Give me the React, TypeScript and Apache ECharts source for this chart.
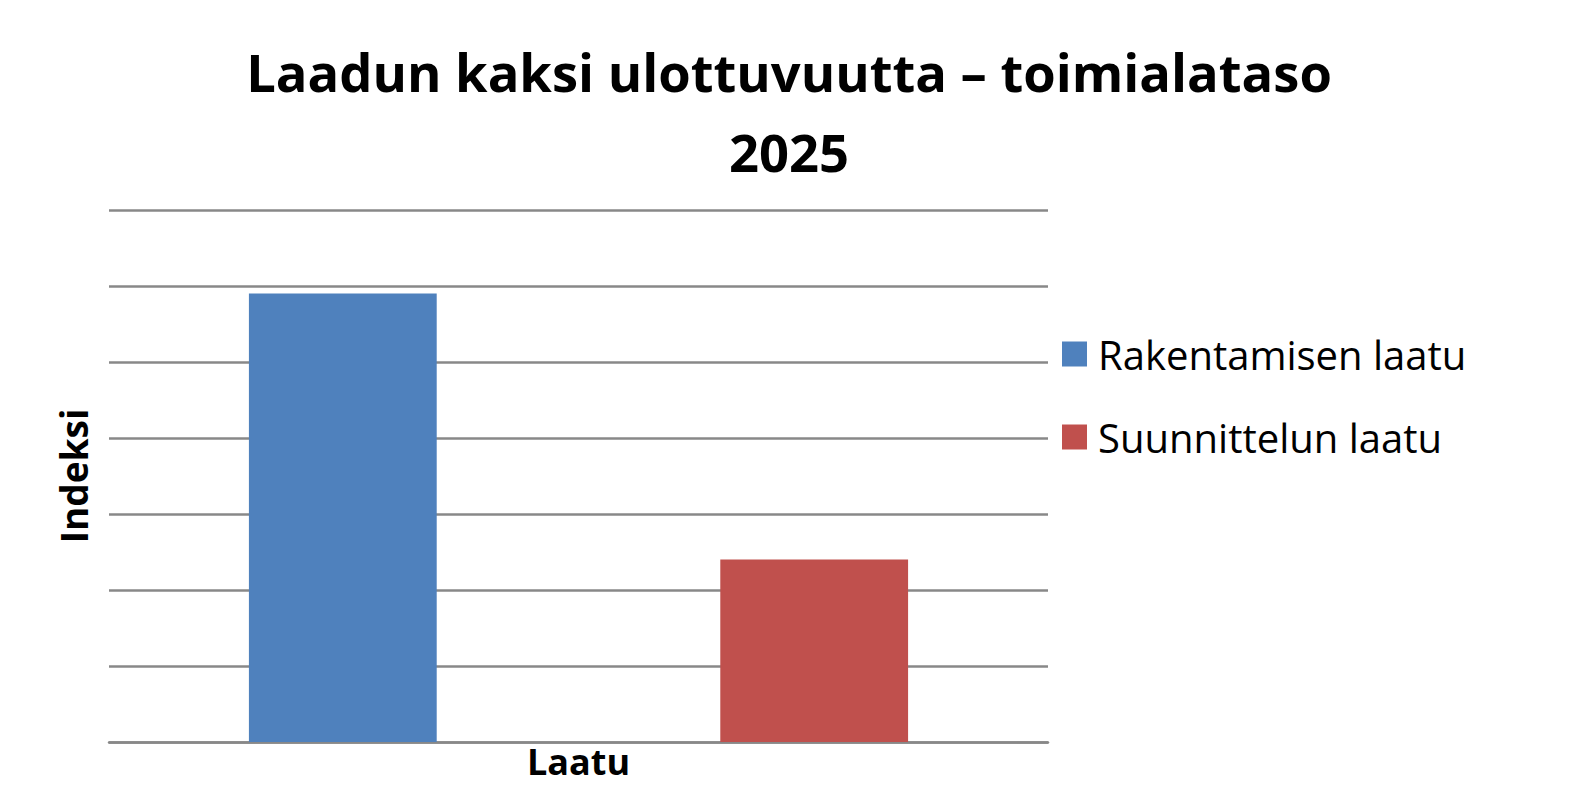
import React, { useEffect, useRef } from "react";
import * as echarts from "echarts";

const categories = ["Laatu"];
const seriesNames = ["Rakentamisen laatu", "Suunnittelun laatu"];
const rakentamisenValues = [5.9];
const suunnittelunValues = [2.4];
const colors = ["#4F81BD", "#C0504D"];
const titleText = "Laadun kaksi ulottuvuutta – toimialataso\n2025";
const yAxisName = "Indeksi";

export default function App() {
  const ref = useRef<HTMLDivElement>(null);
  useEffect(() => {
    document.body.style.margin = "0";
    if (!ref.current) return;
    const chart = echarts.init(ref.current, undefined, { renderer: "svg" });
    const font = "'Open Sans', sans-serif";
    chart.setOption({
      animation: false,
      backgroundColor: "#ffffff",
      title: {
        text: titleText,
        left: 784,
        top: 26,
        textAlign: "center",
        textStyle: {
          fontFamily: font,
          fontWeight: "bold",
          fontSize: 52.5,
          lineHeight: 80,
          color: "#000",
        },
      },
      legend: {
        orient: "vertical",
        left: 1057,
        top: 329,
        itemWidth: 25,
        itemHeight: 25,
        itemGap: 43,
        icon: "rect",
        textStyle: { fontFamily: font, fontSize: 40, color: "#000", padding: [0, 0, 0, 6] },
        data: seriesNames,
      },
      grid: { left: 109, right: 524, top: 210, bottom: 51, containLabel: false },
      xAxis: {
        type: "category",
        data: categories,
        axisLine: { show: true, lineStyle: { color: "#888888", width: 2.5 } },
        axisTick: { show: false },
        axisLabel: {
          show: true,
          margin: 1,
          fontFamily: font,
          fontWeight: "bold",
          fontSize: 36,
          color: "#000",
        },
      },
      yAxis: {
        type: "value",
        min: 0,
        max: 7,
        interval: 1,
        name: yAxisName,
        nameLocation: "middle",
        nameRotate: 90,
        nameGap: 17,
        nameTextStyle: { fontFamily: font, fontWeight: "bold", fontSize: 37, color: "#000" },
        axisLine: { show: false },
        axisTick: { show: false },
        axisLabel: { show: false },
        splitLine: { show: true, lineStyle: { color: "#888888", width: 2.5 } },
      },
      series: [
        {
          name: seriesNames[0],
          type: "bar",
          data: rakentamisenValues,
          barWidth: "20%",
          barGap: "151%",
          itemStyle: { color: colors[0] },
        },
        {
          name: seriesNames[1],
          type: "bar",
          data: suunnittelunValues,
          barWidth: "20%",
          barGap: "151%",
          itemStyle: { color: colors[1] },
        },
      ],
    });
    return () => chart.dispose();
  }, []);
  return <div ref={ref} style={{ width: 1572, height: 793 }} />;
}
